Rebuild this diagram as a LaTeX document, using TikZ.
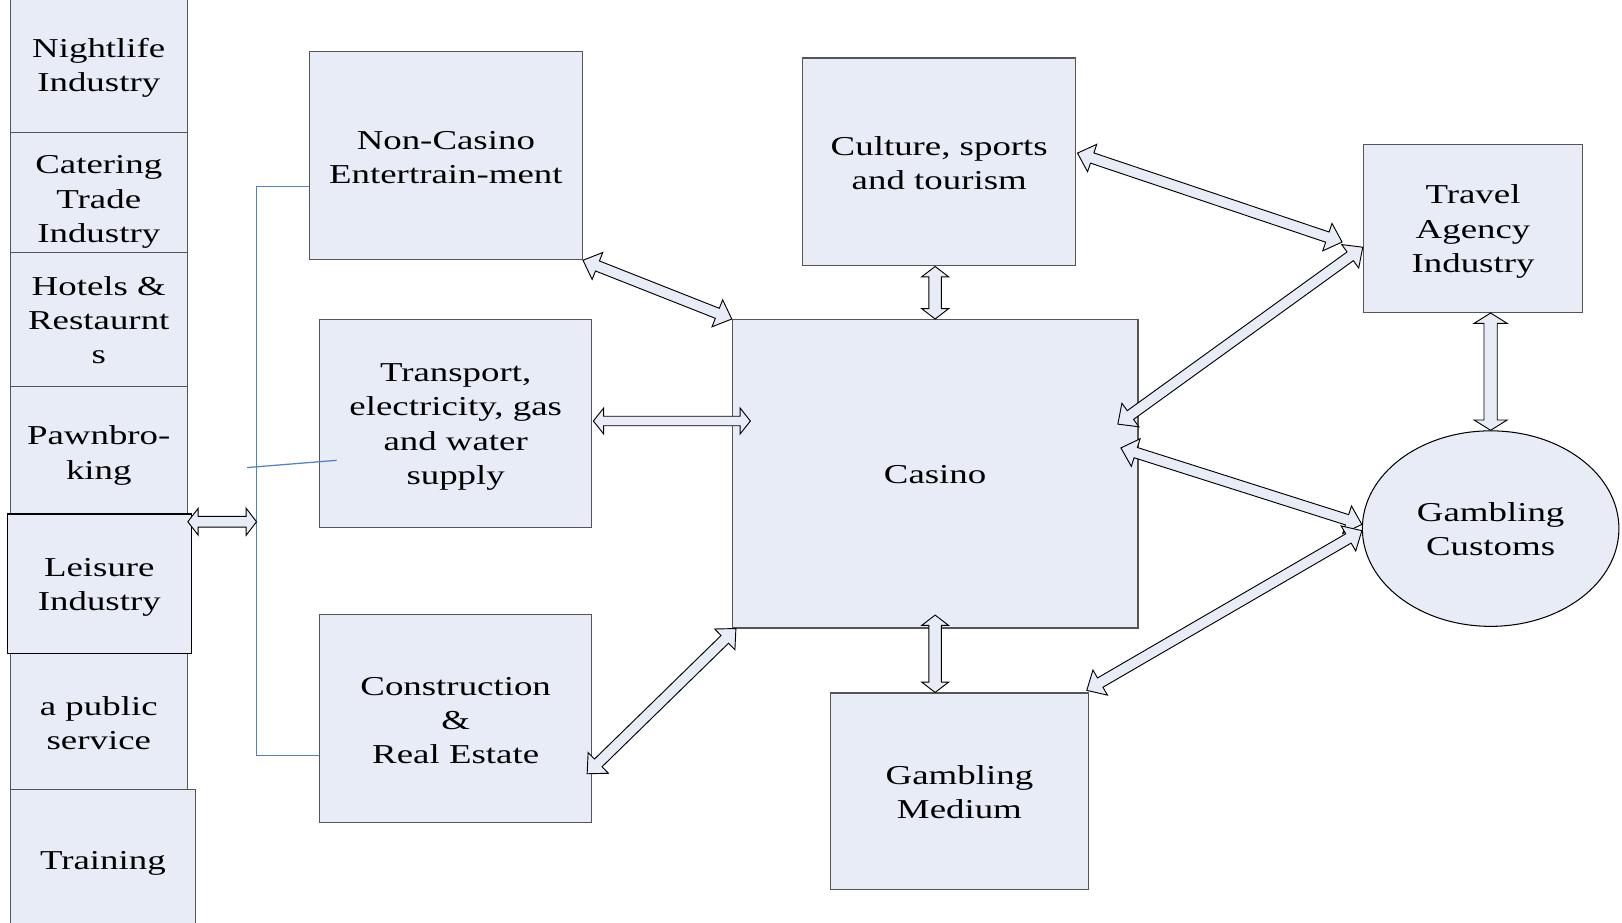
\documentclass[tikz,border=0pt]{standalone}
\usepackage{fontspec}
\setmainfont{Liberation Serif}[FakeStretch=1.35]
\usetikzlibrary{calc,shapes.geometric}
\definecolor{boxfill}{RGB}{231,236,247}
\definecolor{boxline}{RGB}{85,85,85}
\definecolor{brk}{RGB}{79,129,199}
\newcommand{\tstrut}[1]{\rule{0pt}{#1}}
\tikzset{
  box/.style={draw=boxline, fill=boxfill, line width=0.6pt, align=center, inner sep=0pt,
              font=\fontsize{13.2pt}{16.5pt}\selectfont, text=black},
  arr/.style={draw=black, fill=boxfill, line width=0.45pt, line join=miter},
  brline/.style={draw=brk, line width=0.6pt}
}
% #1 start coordinate, #2 end coordinate, #3 head length, #4 half shaft width, #5 half head width
\newcommand{\dbarr}[5]{%
  \draw[arr] (#1)
    -- ($(#1)!#3!(#2)!#5!90:(#2)$)
    -- ($(#1)!#3!(#2)!#4!90:(#2)$)
    -- ($(#2)!#3!(#1)!#4!-90:(#1)$)
    -- ($(#2)!#3!(#1)!#5!-90:(#1)$)
    -- (#2)
    -- ($(#2)!#3!(#1)!#5!90:(#1)$)
    -- ($(#2)!#3!(#1)!#4!90:(#1)$)
    -- ($(#1)!#3!(#2)!#4!-90:(#2)$)
    -- ($(#1)!#3!(#2)!#5!-90:(#2)$)
    -- cycle;}
\begin{document}
\begin{tikzpicture}[x=0.5pt, y=-0.5pt]
\useasboundingbox[fill=white] (0,0) rectangle (1568,892);
\clip (0,0) rectangle (1568,892);

% left column
\node[box, minimum width=85.5pt, minimum height=65.5pt] (night) at (95.5,62.5) {\tstrut{12pt}Nightlife\\Industry};
\node[box, minimum width=85.5pt, minimum height=58pt] (cater) at (95.5,186) {\tstrut{18pt}Catering\\Trade\\Industry};
\node[box, minimum width=85.5pt, minimum height=65pt] (hotel) at (95.5,309) {\tstrut{10pt}Hotels \&\\Restaurnt\\s};
\node[box, minimum width=85.5pt, minimum height=61.5pt] (pawn) at (95.5,435.5) {\tstrut{14pt}Pawnbro-\\king};
\node[box, minimum width=85.5pt, minimum height=65.5pt] (pub) at (95.5,697.5) {\tstrut{11pt}a public\\service};
\node[box, minimum width=89.5pt, minimum height=67pt] (train) at (99.5,830) {\tstrut{13pt}Training};
\node[box, draw=black, minimum width=89pt, minimum height=67.5pt] (leis) at (96,564.5) {\tstrut{12pt}Leisure\\Industry};

% main boxes
\node[box, minimum width=132pt, minimum height=100.5pt] (nonc) at (431,150.5) {\tstrut{11pt}Non-Casino\\Entertrain-ment};
\node[box, minimum width=131.5pt, minimum height=100.5pt] (trans) at (440.5,409.5) {\tstrut{12pt}Transport,\\electricity, gas\\and water\\supply};
\node[box, minimum width=131.5pt, minimum height=100.5pt] (cons) at (440.5,694.5) {\tstrut{11pt}Construction\\\&\\Real Estate};
\node[box, minimum width=132pt, minimum height=100.5pt] (cult) at (908,156.5) {\tstrut{10pt}Culture, sports\\and tourism};
\node[box, minimum width=196pt, minimum height=149pt] (casino) at (904,458) {\tstrut{10pt}Casino};
\node[box, minimum width=124.5pt, minimum height=95pt] (medium) at (927.5,765) {\tstrut{10pt}Gambling\\Medium};
\node[box, minimum width=106pt, minimum height=81pt] (travel) at (1424,221) {\tstrut{12pt}Travel\\Agency\\Industry};
\node[box, ellipse, draw=black, line width=0.5pt, minimum width=124pt, minimum height=94.5pt] (cust) at (1441,511) {\tstrut{10pt}Gambling\\Customs};

% blue bracket
\coordinate (bt) at (248,180);
\coordinate (bb) at (248,730);
\coordinate (bs) at (239,452);
\draw[brline] ($(nonc.west)+(0,29.5)$) -- (bt) -- (bb) -- (bb -| cons.west);
\draw[brline] (bs) -- ($(trans.west)+(17,35.5)$);

% arrow end points
\coordinate (l1) at ($(leis.north east)+(-4,8)$);
\coordinate (l2) at (bt |- l1);
\coordinate (a1s) at (nonc.south east);
\coordinate (a1e) at (casino.north west);
\coordinate (a2s) at ($(trans.east)+(1,-2.5)$);
\coordinate (a2e) at ($(a2s -| casino.west)+(18,0)$);
\coordinate (a3s) at ($(cons.east)+(-5,53.5)$);
\coordinate (a3e) at ($(casino.south west)+(4,0)$);
\coordinate (a4s) at (cult.south -| casino.north);
\coordinate (a4e) at (casino.north);
\coordinate (a5s) at ($(casino.south)+(0,-13)$);
\coordinate (a5e) at (casino.south |- medium.north);
\coordinate (a6s) at ($(cult.east)+(1,-8.5)$);
\coordinate (a6e) at ($(travel.west)+(-20,13)$);
\coordinate (a7s) at ($(travel.west)+(0,18)$);
\coordinate (a7e) at ($(casino.east)+(-20,-48)$);
\coordinate (a8s) at ($(casino.east)+(-17,-25)$);
\coordinate (a8e) at ($(cust.west)+(0,-4)$);
\coordinate (a9s) at ($(cust.west)+(0,2)$);
\coordinate (a9e) at ($(medium.north east)+(-2,-2)$);
\coordinate (a10s) at (travel.south -| cust.north);
\coordinate (a10e) at (cust.north);

% double arrows
\dbarr{l1}{l2}{5pt}{2.6pt}{6.5pt}
\dbarr{a1s}{a1e}{7.5pt}{2.6pt}{7pt}
\dbarr{a2s}{a2e}{5pt}{2.3pt}{6.3pt}
\dbarr{a3s}{a3e}{7.5pt}{2.6pt}{7pt}
\dbarr{a4s}{a4e}{5pt}{3pt}{6.5pt}
\dbarr{a5s}{a5e}{5pt}{3pt}{6.5pt}
\dbarr{a6s}{a6e}{7.5pt}{2.6pt}{7pt}
\dbarr{a7s}{a7e}{7.5pt}{2.6pt}{7pt}
\dbarr{a8s}{a8e}{7.5pt}{2.6pt}{7pt}
\dbarr{a9s}{a9e}{7.5pt}{2.6pt}{7pt}
\dbarr{a10s}{a10e}{5pt}{3.2pt}{8pt}
\end{tikzpicture}
\end{document}
